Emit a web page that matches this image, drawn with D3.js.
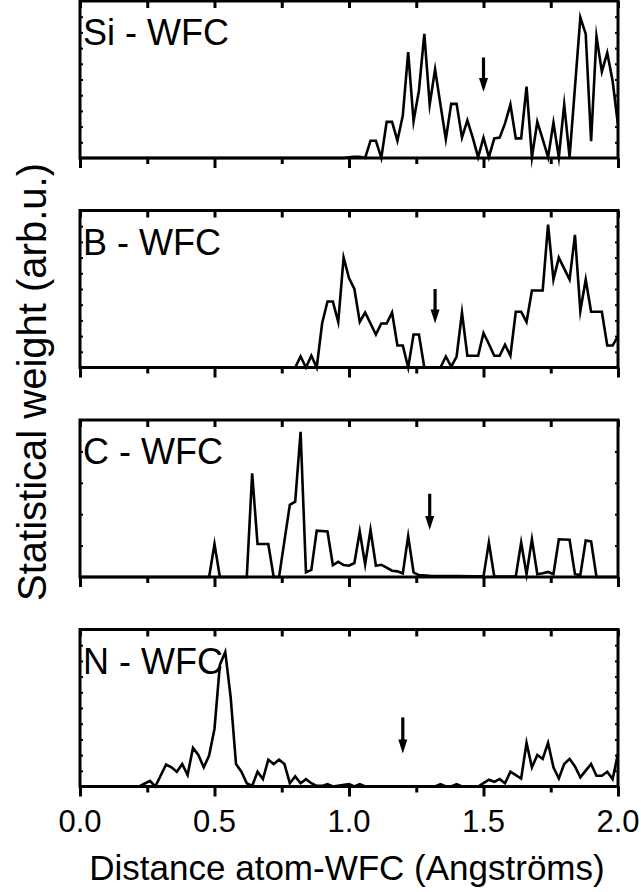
<!DOCTYPE html>
<meta charset="utf-8">
<head>
<title>Statistical weight vs distance atom-WFC</title>
<style>
  body { margin: 0; background: #fff; }
  text { font-family: "Liberation Sans", Arial, sans-serif; fill: #000; }
</style>
</head>
<body>
<svg width="641" height="892"></svg>
<script src="https://d3js.org/d3.v7.min.js"></script>
<script>

// panel names (top to bottom)
var panelNames = ["Si - WFC", "B - WFC", "C - WFC", "N - WFC"];

// Si - WFC
var siX = [0, 0.98, 1.00, 1.02, 1.04, 1.06, 1.08, 1.10, 1.12, 1.14, 1.16, 1.18, 1.20, 1.22, 1.24, 1.26, 1.28, 1.30,
           1.32, 1.34, 1.36, 1.38, 1.40, 1.42, 1.44, 1.46, 1.48, 1.50, 1.52, 1.54, 1.56, 1.58, 1.60, 1.62, 1.64,
           1.66, 1.68, 1.70, 1.72, 1.74, 1.76, 1.78, 1.80, 1.82, 1.84, 1.86, 1.88, 1.90, 1.92, 1.94, 1.96, 1.98, 2.00];
var siY = [0, 0, 0.005, 0.008, 0.008, 0, 0.11, 0.11, 0, 0.23, 0.23, 0.11, 0.27, 0.675, 0.235, 0.43, 0.79, 0.34,
           0.565, 0.34, 0.12, 0.345, 0.345, 0.13, 0.24, 0.13, 0.005, 0.13, 0.005, 0.125, 0.13, 0.22, 0.34, 0.125, 0.125,
           0.455, 0.005, 0.23, 0.12, 0.005, 0.225, 0.005, 0.34, 0.005, 0.45, 0.895, 0.79, 0.107, 0.775, 0.55, 0.67, 0.49, 0.21];

// B - WFC
var bX = [0, 0.80, 0.82, 0.84, 0.86, 0.88, 0.90, 0.92, 0.94, 0.96, 0.98, 1.00, 1.02, 1.04, 1.06, 1.08, 1.10, 1.12,
          1.14, 1.16, 1.18, 1.20, 1.22, 1.24, 1.26, 1.28, 1.34, 1.36, 1.38, 1.40, 1.42, 1.44, 1.46, 1.48, 1.50,
          1.52, 1.54, 1.56, 1.58, 1.60, 1.62, 1.64, 1.66, 1.68, 1.70, 1.72, 1.74, 1.76, 1.78, 1.80, 1.82, 1.84,
          1.86, 1.88, 1.90, 1.92, 1.94, 1.96, 1.98, 2.00];
var bY = [0, 0, 0.07, 0, 0.075, 0, 0.28, 0.42, 0.42, 0.29, 0.70, 0.57, 0.50, 0.29, 0.35, 0.28, 0.21, 0.28,
          0.28, 0.35, 0.14, 0.14, 0, 0.21, 0.21, 0, 0, 0.07, 0.005, 0.07, 0.35, 0.075, 0.075, 0.075, 0.22,
          0.15, 0.075, 0.075, 0.145, 0.075, 0.355, 0.355, 0.29, 0.49, 0.49, 0.49, 0.91, 0.56, 0.70, 0.63, 0.56, 0.845,
          0.36, 0.56, 0.355, 0.355, 0.355, 0.14, 0.14, 0.20];

// C - WFC
var cX = [0, 0.48, 0.50, 0.52, 0.62, 0.64, 0.66, 0.70, 0.72, 0.74, 0.76, 0.78, 0.80, 0.82, 0.84, 0.86, 0.88, 0.92,
          0.94, 0.96, 0.98, 1.00, 1.02, 1.04, 1.06, 1.08, 1.10, 1.12, 1.14, 1.16, 1.18, 1.20, 1.22, 1.24, 1.26,
          1.30, 1.34, 1.40, 1.46, 1.50, 1.52, 1.54, 1.62, 1.64, 1.66, 1.68, 1.70, 1.72, 1.74, 1.76, 1.78, 1.82,
          1.84, 1.86, 1.88, 1.90, 1.92, 2.00];
var cY = [0, 0, 0.21, 0, 0, 0.66, 0.21, 0.21, 0, 0, 0.23, 0.46, 0.48, 0.925, 0.03, 0.045, 0.295, 0.29,
          0.076, 0.097, 0.076, 0.072, 0.089, 0.29, 0.08, 0.30, 0.072, 0.078, 0.06, 0.04, 0.036, 0.023, 0.26, 0.03, 0.012,
          0.008, 0.006, 0.006, 0.004, 0.004, 0.22, 0.003, 0.003, 0.22, 0.018, 0.24, 0.018, 0.024, 0.032, 0.018, 0.24, 0.237,
          0.018, 0.013, 0.233, 0.227, 0, 0];

// N - WFC
var nX = [0, 0.22, 0.26, 0.28, 0.32, 0.34, 0.36, 0.38, 0.40, 0.42, 0.44, 0.46, 0.48, 0.50, 0.52, 0.54, 0.56, 0.58,
          0.60, 0.62, 0.64, 0.66, 0.68, 0.70, 0.72, 0.74, 0.76, 0.78, 0.80, 0.82, 0.84, 0.86, 0.88, 0.90, 0.92,
          0.94, 1.00, 1.02, 1.04, 1.06, 1.32, 1.34, 1.36, 1.38, 1.40, 1.42, 1.48, 1.50, 1.52, 1.54, 1.56, 1.58,
          1.60, 1.62, 1.64, 1.66, 1.68, 1.70, 1.72, 1.74, 1.76, 1.78, 1.80, 1.82, 1.84, 1.86, 1.88, 1.90, 1.92,
          1.94, 1.96, 1.98, 2.00];
var nY = [0, 0, 0.036, 0, 0.14, 0.122, 0.094, 0.143, 0.073, 0.246, 0.201, 0.122, 0.197, 0.368, 0.775, 0.857, 0.57, 0.143,
          0.094, 0.021, 0.004, 0.094, 0.047, 0.171, 0.143, 0.171, 0.143, 0.021, 0.064, 0.021, 0.047, 0.021, 0.004, 0.004, 0.015,
          0, 0.015, 0, 0.015, 0, 0, 0.015, 0, 0, 0.015, 0, 0, 0.021, 0.043, 0.03, 0.047, 0.021,
          0.094, 0.073, 0.051, 0.278, 0.122, 0.201, 0.176, 0.278, 0.122, 0.051, 0.143, 0.176, 0.128, 0.058, 0.101, 0.143, 0.068,
          0.068, 0.094, 0.047, 0.21];

// arrows: x position, top and tip height (arb.u.)
var arrowX   = [1.50, 1.32, 1.30, 1.20];
var arrowTop = [0.64, 0.50, 0.53, 0.44];
var arrowTip = [0.42, 0.28, 0.30, 0.21];

// y ticks (small, unlabelled) per panel
var yTickCount = [10, 10, 5, 10];

var xMajor = [0, 0.5, 1.0, 1.5, 2.0];
var xMinor = [0.25, 0.75, 1.25, 1.75];
var xTickLabels = ["0.0", "0.5", "1.0", "1.5", "2.0"];

var seriesX = [siX, bX, cX, nX];
var seriesY = [siY, bY, cY, nY];

var svg = d3.select("svg");

var left = 80, right = 618;
var panelTop0 = 1, panelStep = 209.5, panelH = 157;

var x = d3.scaleLinear().domain([0, 2]).range([left, right]);

panelNames.forEach(function(name, i) {
    var top = panelTop0 + i * panelStep;
    var bottom = top + panelH;
    var y = d3.scaleLinear().domain([0, 1]).range([bottom, top]);

    var g = svg.append("g");

    // data line
    var pts = seriesX[i].map(function(d, j) { return [d, seriesY[i][j]]; });
    var line = d3.line()
        .x(function(d) { return x(d[0]); })
        .y(function(d) { return y(d[1]); });
    g.append("path")
        .datum(pts)
        .attr("d", line)
        .attr("fill", "none")
        .attr("stroke", "#000")
        .attr("stroke-width", 2.6)
        .attr("stroke-linejoin", "miter")
        .attr("stroke-miterlimit", 10);

    // frame
    g.append("rect")
        .attr("x", left).attr("y", top)
        .attr("width", right - left).attr("height", panelH)
        .attr("fill", "none")
        .attr("stroke", "#000")
        .attr("stroke-width", 3);

    // bottom axis ticks (outward), top ticks (inward)
    var bottomAxis = d3.axisBottom(x).tickValues(xMajor).tickSize(10).tickFormat("");
    var bottomMinor = d3.axisBottom(x).tickValues(xMinor).tickSize(6).tickFormat("");
    var topAxis = d3.axisBottom(x).tickValues(xMajor.concat(xMinor)).tickSize(7).tickFormat("");
    [bottomAxis, bottomMinor].forEach(function(ax) {
        var a = g.append("g").attr("transform", "translate(0," + bottom + ")").call(ax);
        a.select(".domain").remove();
        a.selectAll("line").attr("stroke", "#000").attr("stroke-width", 3);
    });
    var ta = g.append("g").attr("transform", "translate(0," + top + ")").call(topAxis);
    ta.select(".domain").remove();
    ta.selectAll("line").attr("stroke", "#000").attr("stroke-width", 3);

    // small y ticks on left and right, inward
    var yt = d3.range(1, yTickCount[i]).map(function(k) { return k / yTickCount[i]; });
    var la = g.append("g").attr("transform", "translate(" + left + ",0)")
        .call(d3.axisRight(y).tickValues(yt).tickSize(3).tickFormat(""));
    la.select(".domain").remove();
    la.selectAll("line").attr("stroke", "#000").attr("stroke-width", 2);
    var ra = g.append("g").attr("transform", "translate(" + right + ",0)")
        .call(d3.axisLeft(y).tickValues(yt).tickSize(3).tickFormat(""));
    ra.select(".domain").remove();
    ra.selectAll("line").attr("stroke", "#000").attr("stroke-width", 2);

    // arrow
    var ax0 = x(arrowX[i]), yTop = y(arrowTop[i]), yTip = y(arrowTip[i]);
    g.append("line")
        .attr("x1", ax0).attr("x2", ax0)
        .attr("y1", yTop).attr("y2", yTip - 10)
        .attr("stroke", "#000").attr("stroke-width", 3.2);
    g.append("path")
        .attr("d", "M" + (ax0 - 4.5) + "," + (yTip - 14) + "L" + (ax0 + 4.5) + "," + (yTip - 14) + "L" + ax0 + "," + yTip + "Z")
        .attr("fill", "#000");

    // label
    g.append("text")
        .attr("x", left + 3)
        .attr("y", top + 44)
        .attr("font-size", 36)
        .text(name);

    // tick labels on the last panel only
    if (i === panelNames.length - 1) {
        g.selectAll(".tl").data(xMajor).enter().append("text")
            .attr("class", "tl")
            .attr("x", function(d) { return x(d); })
            .attr("y", bottom + 45)
            .attr("text-anchor", "middle")
            .attr("font-size", 31)
            .text(function(d, k) { return xTickLabels[k]; });
    }
});

// axis titles
svg.append("text")
    .attr("x", (left + right) / 2 - 2)
    .attr("y", 880)
    .attr("text-anchor", "middle")
    .attr("font-size", 35)
    .text("Distance atom-WFC (Angströms)");

svg.append("text")
    .attr("transform", "translate(46,382) rotate(-90)")
    .attr("text-anchor", "middle")
    .attr("font-size", 40)
    .text("Statistical weight (arb.u.)");

</script>
</body>
